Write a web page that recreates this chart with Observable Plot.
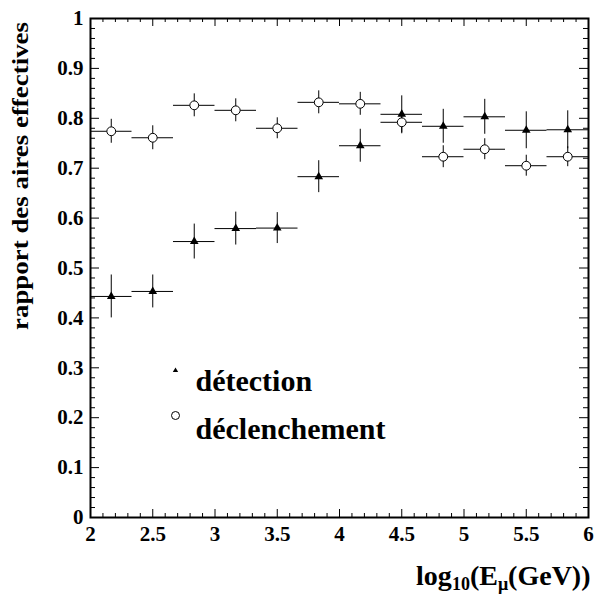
<!DOCTYPE html>
<html>
<head>
<meta charset="utf-8">
<script src="https://cdn.jsdelivr.net/npm/d3@7"></script>
<script src="https://cdn.jsdelivr.net/npm/@observablehq/plot@0.6"></script>
<style>
  html, body { margin: 0; padding: 0; background: #fff; }
  #chart svg { display: block; }
  #chart svg, #chart svg text, #chart svg tspan {
    font-family: "Liberation Serif", "Times New Roman", Times, serif !important;
    font-weight: bold;
  }
</style>
</head>
<body>
<div id="chart"></div>
<script>
// ---- data ----
const binCenters = [2.1667, 2.5, 2.8333, 3.1667, 3.5, 3.8333, 4.1667, 4.5, 4.8333, 5.1667, 5.5, 5.8333];
const binHalfWidth = 0.16667;
const detection    = [0.443, 0.453, 0.553, 0.579, 0.580, 0.683, 0.745, 0.808, 0.784, 0.803, 0.776, 0.777];
const detectionErr = [0.043, 0.033, 0.035, 0.033, 0.031, 0.032, 0.033, 0.037, 0.034, 0.035, 0.037, 0.038];
const declenchement    = [0.774, 0.761, 0.826, 0.816, 0.780, 0.832, 0.829, 0.792, 0.723, 0.738, 0.705, 0.723];
const declenchementErr = [0.024, 0.024, 0.023, 0.023, 0.021, 0.023, 0.023, 0.023, 0.022, 0.021, 0.021, 0.020];
const xTickLabels = [2, 2.5, 3, 3.5, 4, 4.5, 5, 5.5, 6];
const yTickLabels = [0, 0.1, 0.2, 0.3, 0.4, 0.5, 0.6, 0.7, 0.8, 0.9, 1];
const legendLabels = ["détection", "déclenchement"];
const yTitle = "rapport des aires effectives";
const xTitleParts = [
  {t: "log", sub: false}, {t: "10", sub: true}, {t: "(E", sub: false},
  {t: "μ", sub: true}, {t: "(GeV))", sub: false}
];
const xTitle = xTitleParts.map(p => p.t).join("");

// ---- layout ----
const W = 595, H = 594, mL = 90, mR = 7, mT = 18, mB = 77;
const pw = W - mL - mR, ph = H - mT - mB;
const serif = "Liberation Serif, Times New Roman, serif";

const xMinor = d3.range(2.1, 6, 0.1).filter(v => Math.abs(v * 2 - Math.round(v * 2)) > 1e-6);
const yMinor = d3.range(0.02, 1, 0.02).filter(v => Math.abs(v * 10 - Math.round(v * 10)) > 1e-6);

function rows(vals, errs) {
  return binCenters.map((x, i) => ({
    x, x1: x - binHalfWidth, x2: x + binHalfWidth,
    y: vals[i], y1: vals[i] - errs[i], y2: vals[i] + errs[i]
  }));
}
const detRows = rows(detection, detectionErr);
const decRows = rows(declenchement, declenchementErr);

const chart = Plot.plot({
  width: W, height: H,
  marginLeft: mL, marginRight: mR, marginTop: mT, marginBottom: mB,
  style: {fontFamily: serif, background: "#fff"},
  x: {domain: [2, 6]},
  y: {domain: [0, 1]},
  marks: [
    // error bars
    Plot.ruleY(decRows, {y: "y", x1: "x1", x2: "x2", stroke: "black", strokeWidth: 1}),
    Plot.ruleX(decRows, {x: "x", y1: "y1", y2: "y2", stroke: "black", strokeWidth: 1}),
    Plot.ruleY(detRows, {y: "y", x1: "x1", x2: "x2", stroke: "black", strokeWidth: 1}),
    Plot.ruleX(detRows, {x: "x", y1: "y1", y2: "y2", stroke: "black", strokeWidth: 1}),
    // markers
    Plot.dot(detRows, {x: "x", y: "y", symbol: "triangle", r: 3.2, fill: "black", stroke: "none"}),
    Plot.dot(decRows, {x: "x", y: "y", symbol: "circle", r: 4.4, fill: "white", stroke: "black", strokeWidth: 1}),
    // inward ticks: left / right
    Plot.tickY(yTickLabels, {y: d => d, insetRight: pw - 9, stroke: "black"}),
    Plot.tickY(yMinor, {y: d => d, insetRight: pw - 5, stroke: "black"}),
    Plot.tickY(yTickLabels, {y: d => d, insetLeft: pw - 9, stroke: "black"}),
    Plot.tickY(yMinor, {y: d => d, insetLeft: pw - 5, stroke: "black"}),
    // inward ticks: bottom / top
    Plot.tickX(xTickLabels, {x: d => d, insetTop: ph - 8, stroke: "black"}),
    Plot.tickX(xMinor, {x: d => d, insetTop: ph - 4, stroke: "black"}),
    Plot.tickX(xTickLabels, {x: d => d, insetBottom: ph - 8, stroke: "black"}),
    Plot.tickX(xMinor, {x: d => d, insetBottom: ph - 4, stroke: "black"}),
    Plot.frame({stroke: "black", strokeWidth: 2}),
    // tick labels
    Plot.axisX({ticks: xTickLabels, tickSize: 0, tickPadding: 9, tickFormat: d => `${d}`,
      fontSize: 21, fontWeight: "bold", fontFamily: serif, label: null}),
    Plot.axisY({ticks: yTickLabels, tickSize: 0, tickPadding: 7, tickFormat: d => `${d}`,
      fontSize: 21, fontWeight: "bold", fontFamily: serif, label: null}),
    // axis titles
    Plot.text([yTitle], {text: d => d, frameAnchor: "left", dx: -69.5, dy: -92, rotate: -90,
      textAnchor: "middle", fontSize: 23, fontWeight: "bold", fontFamily: serif, fill: "black"}),
    Plot.text([xTitle], {text: d => d, frameAnchor: "bottom-right",
      dx: 2, dy: 67, textAnchor: "end", lineAnchor: "bottom", fontSize: 28, fontWeight: "bold",
      fontFamily: serif, fill: "black"}),
    // legend
    Plot.dot([legendLabels[0]], {frameAnchor: "top-left", dx: 85, dy: 352, symbol: "triangle", r: 2, fill: "black", stroke: "none"}),
    Plot.dot([legendLabels[1]], {frameAnchor: "top-left", dx: 85, dy: 397, symbol: "circle", r: 4, fill: "white", stroke: "black", strokeWidth: 1}),
    Plot.text([legendLabels[0]], {text: d => d, frameAnchor: "top-left", dx: 105, dy: 351.5,
      textAnchor: "start", fontSize: 30, fontWeight: "bold", fontFamily: serif, fill: "black"}),
    Plot.text([legendLabels[1]], {text: d => d, frameAnchor: "top-left", dx: 105, dy: 399.5,
      textAnchor: "start", fontSize: 30, fontWeight: "bold", fontFamily: serif, fill: "black"})
  ]
});

const allText = d3.select(chart).selectAll("text");

// stretch y-title along its length to match the reference proportions
allText.filter(function() { return this.textContent === yTitle; })
  .attr("textLength", 308).attr("lengthAdjust", "spacingAndGlyphs");

// x-title with subscripts
const xt = allText.filter(function() { return this.textContent === xTitle; });
xt.text(null);
let prevSub = false;
xTitleParts.forEach(p => {
  const ts = xt.append("tspan").text(p.t);
  if (p.sub && !prevSub) ts.attr("dy", 5);
  if (!p.sub && prevSub) ts.attr("dy", -5);
  if (p.sub) ts.style("font-size", "18px");
  prevSub = p.sub;
});

document.getElementById("chart").appendChild(chart);
</script>
</body>
</html>
